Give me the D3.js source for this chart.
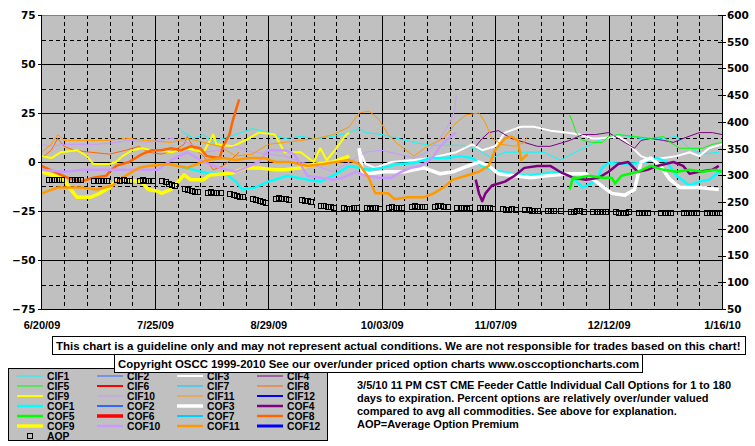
<!DOCTYPE html>
<html><head><meta charset="utf-8">
<script src="https://cdn.jsdelivr.net/npm/d3@7"></script>
<style>body{margin:0;background:#fff}svg{display:block}</style>
</head><body><svg id="c" width="755" height="446"></svg>
<script>
// ---------- data ----------
const xTickLabels = ["6/20/09","7/25/09","8/29/09","10/03/09","11/07/09","12/12/09","1/16/10"];
const xTickDays = [0,35,70,105,140,175,210];       // days after 6/20/09
const leftTicks = [75,50,25,0,-25,-50,-75];
const rightTicks = [600,550,500,450,400,350,300,250,200,150,100,50];

const seriesNames = ["CIF1","CIF2","CIF3","CIF4","CIF5","CIF6","CIF7","CIF8","CIF9","CIF10","CIF11","CIF12",
                     "COF1","COF2","COF3","COF4","COF5","COF6","COF7","COF8","COF9","COF10","COF11","COF12"];
const seriesColors = ["#00FFFF","#3366FF","#FFFFFF","#800080","#00FF00","#FF0000","#00CCFF","#FF6600","#FFFF00","#CC99FF","#FF9900","#0000FF",
                      "#00FFFF","#3366FF","#FFFFFF","#800080","#00FF00","#FF0000","#00CCFF","#FF6600","#FFFF00","#CC99FF","#FF9900","#0000FF"];
const seriesWidths = [1,1,2,1,1,2,1,1,2,1,1,2, 2.5,2,3.5,2.5,2.5,3.5,2,2.5,3.5,2.5,2.5,3];

// [day after 6/20/09, percent over/under]
const cif1 = [[42,18],[44,15],[47,12],[50,14],[53,10],[56,12],[60,14],[65,17],[70,15],[75,12],[80,13],[85,12],[90,13],[95,15],[98,17],[100,15],[105,14],[110,12],[115,10],[120,8.5],[125,8.5],[130,8.5],[135,6],[139,2],[143,5],[148,5],[155,5],[160,1],[166,6],[172,11],[178,14],[185,12],[191,12],[196,13],[200,7],[204,4],[209,5]];
const cif3 = [[98,7],[100,-1],[103,-3],[108,0],[115,1],[120,2],[128,5],[133,9],[136,6],[140,8],[143,15],[148,18],[152,18],[157,16],[162,15],[166,14],[170,12],[172,12],[178,13],[180,11],[185,3],[188,1],[192,2],[196,3],[200,5],[203,3],[206,7],[210,9]];
const cif4 = [[134,8],[136,12],[138,15],[141,16],[145,12],[149,10],[153,8],[157,8],[163,11],[167,14],[171,14],[175,15],[178,12],[181,9],[183,7],[185,11],[188,12],[192,11],[195,10],[198,12],[203,15],[207,15],[210,14]];
const cif5 = [[163,24],[164,20],[165,15],[167,11],[170,10],[173,10],[175,13],[178,14],[183,13],[188,12],[192,13],[194,10],[197,7],[200,7],[204,7],[207,9],[210,10]];
const cif8 = [[0,2],[3,6],[5,12],[7,8],[10,6],[15,5],[21,4],[26,6],[30,8],[33,5],[37,4],[41,6],[44,9],[45,13],[47,7],[50,3],[53,-4],[56,-2],[59,2],[61,5]];
const cif9 = [[0,3],[3,2],[6,5],[11,6],[14,3],[16,-1],[21,-1],[23,0],[25,3],[28,6],[31,7],[34,6],[36,6],[40,5],[45,7],[50,5],[53,14],[54,9],[59,8],[64,12],[67,15],[72,14],[75,5],[80,5],[84,0],[86,7],[88,1],[91,7],[94,14],[95,15]];
const cif10 = [[0,9],[3,8],[7,9],[17,9],[23,10],[27,11],[33,10],[40,12],[45,10],[50,5],[55,6],[60,8],[65,5],[70,4],[75,3],[80,0],[85,-2],[90,-5],[95,0],[100,5],[105,6],[110,4],[115,2],[119,5],[123,12],[126,20],[127.5,26],[128,34]];
const cif11 = [[0,5],[3,9],[5,14],[7,11],[12,11],[20,11],[27,12],[32,11],[40,10],[45,12],[50,10],[55,8],[60,3],[65,4],[70,9],[75,10],[80,11],[85,12],[90,14],[95,18],[98,25],[101,26],[104,22],[107,14],[110,9],[115,3],[119,8],[124,12],[128,20],[131,24],[135,25],[137,20],[139,12],[142,9],[146,8],[149,10],[150,13]];
const cof1 = [[42,-2],[47,-4],[52,-6],[57,-6],[60,-10],[62,-14],[66,-13],[70,-10],[76,-7],[82,-9],[86,-10],[90,-7],[95,-2],[98,-3],[101,-4],[105,-3],[110,-1],[115,-0.5],[120,2],[125,2],[129,3],[133,2],[136,-2],[139,-4],[145,-6],[150,-7],[155,-6],[160,-5],[164,-8],[167,-13],[171,-10],[173,-3],[175,-0.5],[180,-1],[185,-0.5],[190,2],[193,0],[196,-7],[200,-12],[203,-10],[206,-9],[210,-4]];
const cof3 = [[98,7],[99,-5],[101,-6],[106,-5],[112,-5],[118,-3],[123,-6],[127,-5],[130,-3],[135,0],[138,-2],[141,-6],[146,-7],[151,-8],[156,-7],[163,-6],[168,-6],[172,-11],[176,-16],[180,-17],[183,-14],[185,0],[188,2],[191,-2],[194,-9],[197,-13],[203,-13],[209,-14]];
const cof4 = [[134,-9],[135,-16],[136,-20],[137,-16],[139,-12],[143,-10],[146,-7],[149,-3],[153,-2],[157,-2],[160,-5],[164,-8],[168,-9],[172,-8],[175,-5],[178,-1],[181,0],[184,-5],[187,-4],[190,-2],[195,0],[198,-2],[200,-6],[203,-5],[207,-4],[209,-2]];
const cof5 = [[163,-14],[164,-8],[166,-8],[169,-7],[173,-8],[176,-8],[177,-11],[179,-7],[184,-5],[188,-2],[192,-4],[196,-5],[200,-4],[204,-5],[208,-4],[210,-5]];
const cof8 = [[0,-2],[4,-5],[8,-8],[12,-10],[16,-8],[20,-7],[21,-5],[23,-2],[27,0],[31,4],[34,6],[37,6],[40,7],[43,6],[46,8],[49,7],[51,3],[55,2],[56,8],[58,14],[59,21],[61,32]];
const cof9 = [[0,-5],[4,-7],[7,-9],[9,-14],[11,-18],[15,-18],[18,-16],[21,-13],[23,-9.5],[27,-9],[31,-10.5],[33,-14],[36,-15],[37,-16],[40,-14],[44,-6.6],[46,-9],[50,-9],[52,-6.6],[59,-5.6],[63,-3],[67,-3],[72,-4],[75,-4],[80,-3],[85,-1],[90,0],[95,3]];
const cof10 = [[0,-4],[7,-5],[13,-4],[20,-4],[30,-4],[36,-4],[40,1],[45,5],[50,0],[55,-3],[60,-5],[67,0],[70,6],[75,6],[78,4],[82,-7],[86,-8],[90,-9],[93,-8],[97,-5],[100,-7],[104,-8],[108,-8],[111,-5],[114,-3],[117,-2],[119,0],[121,3],[123,8],[125,11],[127,14],[128,15]];
const cof11 = [[0,-16],[5,-13],[12,-13],[17,-14],[22,-12],[24,-9],[27,-6],[30,-3],[33,-2],[39,-1],[45,-3],[51,1],[56,2],[60,1],[64,2],[69,2],[72,0],[77,0],[82,-2],[87,-1],[91,0],[95,1],[98,-1],[101,-8],[103,-16],[107,-16],[109,-19],[113,-18],[118,-18],[121,-16],[124,-13],[127,-9],[131,-7],[135,-5],[138,-2],[140,6],[143,12],[145,13],[147,11],[148,1],[150,4]];

const seriesData = {CIF1:cif1,CIF3:cif3,CIF4:cif4,CIF5:cif5,CIF8:cif8,CIF9:cif9,CIF10:cif10,CIF11:cif11,
                    COF1:cof1,COF3:cof3,COF4:cof4,COF5:cof5,COF8:cof8,COF9:cof9,COF10:cof10,COF11:cof11};

// Average Option Premium (right axis), one row per week (Mon..Fri) starting Mon 6/22/09
const aopFirstMonday = 2;
const aop = [
 [293,293,293,293,293],[293,293,293,293,null],[292,292,292,292,292],[293,292,293,292,292],
 [292,293,292,291,292],[291,289,286,284,282],[277,275,273,271,270],[269,270,268,269,268],
 [267,265,264,262,261],[258,256,254,252,251],[257,259,258,257,256],[null,255,254,253,252],
 [245,244,243,242,241],[240,239,239,240,240],[240,239,240,240,239],[241,242,241,240,241],
 [243,244,243,242,243],[243,244,244,243,242],[240,241,240,239,240],[240,241,241,240,239],
 [239,238,238,239,238],[237,237,236,236,236],[235,235,236,null,236],[234,234,235,235,234],
 [233,233,233,234,233],[233,232,232,232,233],[232,232,232,232,null],[232,232,232,232,null],
 [232,232,231,232,232],[232,232,232,232,232]
];

const disclaimer = "This chart is a guideline only and may not represent actual conditions. We are not responsible for trades based on this chart!";
const copyright = "Copyright OSCC 1999-2010 See our over/under priced option charts www.osccoptioncharts.com";
const note = ["3/5/10 11 PM CST CME Feeder Cattle Individual Call Options for 1 to 180",
              "days to expiration. Percent options are relatively over/under valued",
              "compared to avg all commodities. See above for explanation.",
              "AOP=Average Option Premium"];

// ---------- drawing ----------
const svg = d3.select("#c");
const P = {l:41.5, r:722, t:15, b:309};
const x = d3.scaleLinear().domain([0,210]).range([P.l,P.r]);
const y = d3.scaleLinear().domain([-75,75]).range([P.b,P.t]);
const yR = d3.scaleLinear().domain([50,600]).range([P.b,P.t]);
const axisFont = "'DejaVu Sans', Verdana, sans-serif";
const arial = "'Liberation Sans', Arial, sans-serif";

svg.append("rect").attr("width",755).attr("height",446).attr("fill","#fff");
svg.append("rect").attr("x",P.l).attr("y",P.t).attr("width",P.r-P.l).attr("height",P.b-P.t).attr("fill","#C0C0C0");

const grid = svg.append("g").attr("shape-rendering","crispEdges");
d3.range(-62.5,75,12.5).forEach(v=>{
  const yy = Math.round(y(v))+0.5;
  const solid = Math.abs(v%25)<1e-6;
  grid.append("line").attr("x1",P.l).attr("x2",P.r).attr("y1",yy).attr("y2",yy)
    .attr("stroke","#000").attr("stroke-width",1).attr("stroke-dasharray",solid?null:"4,3");
});
d3.range(7,210,7).forEach(d=>{
  const xx = Math.round(x(d))+0.5;
  const solid = d%35===0;
  grid.append("line").attr("x1",xx).attr("x2",xx).attr("y1",P.t).attr("y2",P.b)
    .attr("stroke","#000").attr("stroke-width",1).attr("stroke-dasharray",solid?null:"4,3");
});

const line = d3.line().x(d=>x(d[0])).y(d=>y(d[1]));
const gl = svg.append("g");
seriesNames.forEach((n,i)=>{
  const data = seriesData[n];
  if(!data) return;
  gl.append("path").datum(data).attr("d",line).attr("fill","none")
    .attr("stroke",seriesColors[i]).attr("stroke-width",seriesWidths[i])
    .attr("stroke-linejoin","round").attr("stroke-linecap","butt");
});

const aopPts = [];
aop.forEach((wk,w)=>wk.forEach((v,i)=>{ if(v!==null) aopPts.push([aopFirstMonday+7*w+i, v]); }));
svg.append("g").selectAll("rect").data(aopPts).join("rect")
  .attr("x",d=>Math.round(x(d[0]))-2).attr("y",d=>Math.round(yR(d[1]))-2)
  .attr("width",5).attr("height",5).attr("fill","none").attr("stroke","#000").attr("stroke-width",1)
  .attr("shape-rendering","crispEdges");

const fr = svg.append("g").attr("shape-rendering","crispEdges");
fr.append("line").attr("x1",P.l).attr("x2",P.r).attr("y1",P.t+0.5).attr("y2",P.t+0.5).attr("stroke","#808080");
fr.append("line").attr("x1",P.l).attr("x2",P.l).attr("y1",P.t).attr("y2",P.b).attr("stroke","#000");
fr.append("line").attr("x1",P.r+0.5).attr("x2",P.r+0.5).attr("y1",P.t).attr("y2",P.b+1).attr("stroke","#000");
fr.append("line").attr("x1",P.l).attr("x2",P.r).attr("y1",P.b+0.5).attr("y2",P.b+0.5).attr("stroke","#000");

const la = svg.append("g").attr("transform",`translate(${P.l},0)`)
  .call(d3.axisLeft(y).tickValues(leftTicks).tickSize(4).tickPadding(2).tickFormat(d3.format("d")));
la.select(".domain").remove();
la.selectAll("line").attr("stroke","#000").attr("shape-rendering","crispEdges");
la.selectAll("text").attr("font-family",axisFont).attr("font-weight","bold").attr("font-size","10.5px").attr("fill","#000");

const ra = svg.append("g").attr("transform",`translate(${P.r},0)`)
  .call(d3.axisRight(yR).tickValues(rightTicks).tickSize(4).tickPadding(1).tickFormat(d3.format("d")));
ra.select(".domain").remove();
ra.selectAll("line").attr("x1",-4).attr("stroke","#000").attr("shape-rendering","crispEdges");
ra.selectAll("text").attr("font-family",axisFont).attr("font-weight","bold").attr("font-size","10.5px").attr("fill","#000");

const xa = svg.append("g").attr("transform",`translate(0,${P.b})`)
  .call(d3.axisBottom(x).tickValues(xTickDays).tickSize(0).tickPadding(12).tickFormat((d,i)=>xTickLabels[i]));
xa.select(".domain").remove();
xa.selectAll("text").attr("font-family",arial).attr("font-weight","bold").attr("font-size","11px").attr("fill","#000");

// fit a text into a given width by adjusting its font size (no distortion)
function fitText(sel, maxW, size){
  sel.attr("font-size",size+"px");
  const w = sel.node().getComputedTextLength();
  if (w > maxW) sel.attr("font-size",(size*maxW/w).toFixed(2)+"px");
  return sel;
}

svg.append("rect").attr("x",52.5).attr("y",336.5).attr("width",693).attr("height",18).attr("fill","#fff").attr("stroke","#000");
fitText(svg.append("text").attr("x",56).attr("y",349.5).text(disclaimer)
  .attr("font-family",arial).attr("font-weight","bold"), 684, 12.2);

const lg = svg.append("g");
lg.append("rect").attr("x",8.5).attr("y",368.5).attr("width",319).attr("height",72).attr("fill","#C0C0C0").attr("stroke","#000");
seriesNames.forEach((n,i)=>{
  const row = Math.floor(i/4), col = i%4;
  const ly = 376 + row*10, lx = 17 + col*80;
  lg.append("line").attr("x1",lx).attr("x2",lx+26).attr("y1",ly).attr("y2",ly)
    .attr("stroke",seriesColors[i]).attr("stroke-width",seriesWidths[i]);
  lg.append("text").attr("x",lx+30).attr("y",ly+3.8).text(n)
    .attr("font-family",arial).attr("font-weight","bold").attr("font-size","10.3px");
});
lg.append("rect").attr("x",27.5).attr("y",433.5).attr("width",5).attr("height",5).attr("fill","none").attr("stroke","#000").attr("shape-rendering","crispEdges");
lg.append("text").attr("x",47).attr("y",439.8).text("AOP").attr("font-family",arial).attr("font-weight","bold").attr("font-size","10.3px");

svg.append("rect").attr("x",114.5).attr("y",354.5).attr("width",528).attr("height",18).attr("fill","#fff").attr("stroke","#000");
fitText(svg.append("text").attr("x",118).attr("y",367.5).text(copyright)
  .attr("font-family",arial).attr("font-weight","bold"), 521, 12.2);

note.forEach((t,i)=>{
  svg.append("text").attr("x",357).attr("y",388.5+i*13.3).text(t)
    .attr("font-family",arial).attr("font-weight","bold").attr("font-size","11px");
});
</script></body></html>
